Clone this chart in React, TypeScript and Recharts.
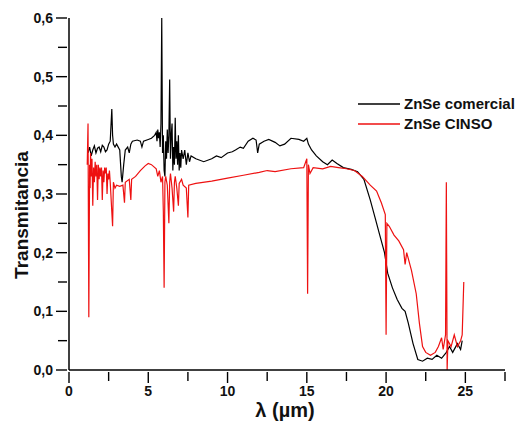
import { LineChart, Line, XAxis, YAxis } from "recharts";

const comercialX = [
  1.2, 1.3, 1.4, 1.5, 1.6, 1.7, 1.8, 1.9, 2.0, 2.1, 2.2, 2.3, 2.4, 2.5, 2.6, 2.7, 2.75, 2.8, 2.9, 3.0,
  3.2, 3.3, 3.35, 3.45, 3.55, 3.7, 3.8, 3.9, 4.0, 4.3, 4.5, 4.6, 4.7, 5.0, 5.2, 5.4,
  5.5, 5.55, 5.6, 5.65, 5.7, 5.75, 5.8, 5.85, 5.9, 5.95, 6.0, 6.05, 6.1, 6.15, 6.2, 6.25,
  6.3, 6.35, 6.4, 6.45, 6.5, 6.55, 6.6, 6.65, 6.7, 6.75, 6.8, 6.85, 6.9, 6.95, 7.0, 7.05,
  7.1, 7.2, 7.3, 7.4, 7.5, 7.6, 7.7, 8.0, 8.5, 9.0, 9.3, 9.6, 10.0, 10.3, 10.5,
  10.8, 11.0, 11.3, 11.6, 11.8, 11.9, 12.0, 12.3, 12.6, 13.0, 13.3, 13.6, 14.0, 14.5,
  14.8, 15.0, 15.1, 15.3, 15.6, 16.0, 16.3, 16.6, 16.9, 17.3, 17.8, 18.2, 18.6, 19.0,
  19.3, 19.6, 19.9, 20.1, 20.4, 20.7, 21.0, 21.2, 21.4, 21.7, 22.0, 22.3, 22.6, 22.9,
  23.2, 23.5, 23.8, 24.0, 24.2, 24.5, 24.7, 24.8
];
const comercialT = [
  0.37, 0.38, 0.365, 0.375, 0.382, 0.37, 0.378, 0.38, 0.372, 0.383, 0.38, 0.372, 0.375, 0.385, 0.39, 0.445, 0.4, 0.385, 0.38, 0.385,
  0.375, 0.33, 0.32, 0.35, 0.375, 0.38, 0.37, 0.385, 0.39, 0.392, 0.39, 0.38, 0.39, 0.393, 0.395, 0.4,
  0.405, 0.39, 0.41, 0.395, 0.405, 0.38, 0.42, 0.6, 0.37, 0.4, 0.34, 0.33, 0.39, 0.36, 0.41, 0.37,
  0.4, 0.495, 0.36, 0.4, 0.42, 0.34, 0.38, 0.35, 0.43, 0.36, 0.39, 0.35, 0.4, 0.34, 0.37, 0.345,
  0.375, 0.36, 0.375, 0.35, 0.37, 0.355, 0.365, 0.36, 0.355, 0.36, 0.365, 0.362, 0.37, 0.372, 0.375,
  0.38, 0.378, 0.39, 0.395, 0.392, 0.37, 0.385, 0.39, 0.393, 0.388, 0.382, 0.385, 0.395, 0.393,
  0.39, 0.395, 0.385, 0.375, 0.365, 0.355, 0.35, 0.358, 0.352, 0.345, 0.342, 0.338, 0.325, 0.29,
  0.26, 0.23, 0.2, 0.165, 0.14, 0.12, 0.105, 0.1, 0.08, 0.045, 0.018, 0.015, 0.02, 0.018,
  0.025, 0.02, 0.03, 0.04, 0.03, 0.045, 0.035, 0.05
];

const cinsoX = [
  1.15, 1.2, 1.25, 1.3, 1.33, 1.36, 1.4, 1.45, 1.5, 1.55, 1.6, 1.65, 1.7, 1.75, 1.8, 1.85,
  1.9, 1.95, 2.0, 2.05, 2.1, 2.15, 2.2, 2.25, 2.3, 2.35, 2.4, 2.45, 2.5, 2.55, 2.6,
  2.7, 2.75, 2.8, 2.9, 3.0, 3.2, 3.4, 3.5, 3.55, 3.8, 3.9, 3.95, 4.2, 4.5,
  4.8, 5.0, 5.2, 5.5, 5.6, 5.7, 5.8, 5.9, 5.95, 6.0, 6.05, 6.1, 6.2, 6.3, 6.35, 6.4, 6.5, 6.6, 6.65, 6.7, 6.8,
  6.9, 6.95, 7.1, 7.2, 7.4, 7.5, 7.55, 8.0, 9.0, 10.0, 11.0, 12.0, 12.5, 13.0, 14.0, 14.8,
  15.0, 15.05, 15.1, 15.2, 15.4, 16.0, 16.5, 17.0, 17.5, 18.0, 18.5, 19.0, 19.4, 19.7, 19.95,
  20.0, 20.05, 20.2, 20.5, 20.8, 21.1, 21.2, 21.3, 21.6, 21.9, 22.1, 22.3, 22.5, 22.8,
  23.1, 23.3, 23.5, 23.6, 23.75, 23.8, 23.85, 23.9, 24.1, 24.3, 24.5, 24.7, 24.8, 24.9
];
const cinsoT = [
  0.35, 0.42, 0.09, 0.35, 0.31, 0.37, 0.33, 0.36, 0.28, 0.345, 0.32, 0.355, 0.33, 0.35, 0.29, 0.35,
  0.325, 0.345, 0.33, 0.345, 0.29, 0.34, 0.32, 0.345, 0.335, 0.345, 0.3, 0.335, 0.325, 0.34, 0.32,
  0.27, 0.245, 0.32, 0.31, 0.315, 0.313, 0.315, 0.285, 0.32, 0.325, 0.29, 0.325, 0.33, 0.34,
  0.348, 0.352, 0.35, 0.343, 0.33, 0.34, 0.32, 0.33, 0.27, 0.14, 0.32, 0.33, 0.315, 0.25, 0.32, 0.335, 0.31, 0.27, 0.32, 0.33, 0.31,
  0.28, 0.318, 0.325, 0.315, 0.31, 0.26, 0.315, 0.318, 0.322, 0.327, 0.332, 0.337, 0.34, 0.338, 0.343, 0.345,
  0.36, 0.13, 0.35, 0.335, 0.345, 0.343, 0.347, 0.345, 0.343, 0.34, 0.33, 0.315, 0.305, 0.285, 0.265,
  0.06, 0.25, 0.245, 0.23, 0.22, 0.205, 0.18, 0.2, 0.17, 0.13, 0.08, 0.04, 0.03, 0.025,
  0.03, 0.04, 0.055, 0.035, 0.06, 0.32, 0.0, 0.05, 0.04, 0.06, 0.04, 0.05, 0.06, 0.15
];

const xTicks = [0, 2.5, 5, 7.5, 10, 12.5, 15, 17.5, 20, 22.5, 25, 27.5];
const yTicks = [0, 0.05, 0.1, 0.15, 0.2, 0.25, 0.3, 0.35, 0.4, 0.45, 0.5, 0.55, 0.6];
const seriesNames = ["ZnSe comercial", "ZnSe CINSO"];
const seriesColors = ["#000", "#ee1111"];

const comercial = comercialX.map((x, i) => ({ x, t: comercialT[i] }));
const cinso = cinsoX.map((x, i) => ({ x, t: cinsoT[i] }));

const font = "'Liberation Sans', Arial, sans-serif";

function XTick({ x, y, payload }: any) {
  const major = payload.value % 5 === 0;
  return (
    <g>
      <line x1={x} x2={x} y1={y - 6} y2={y + (major ? 5 : 3)} stroke="#000" strokeWidth={1.4} />
      {major && (
        <text x={x} y={y + 18} textAnchor="middle" fontFamily={font} fontWeight="bold" fontSize={14} fill="#111">
          {payload.value}
        </text>
      )}
    </g>
  );
}

function YTick({ x, y, payload }: any) {
  const major = Math.round(payload.value * 100) % 10 === 0;
  return (
    <g>
      <line x1={x - (major ? 5 : 3)} x2={x + 6} y1={y} y2={y} stroke="#000" strokeWidth={1.4} />
      {major && (
        <text x={x - 8} y={y + 5} textAnchor="end" fontFamily={font} fontWeight="bold" fontSize={14} fill="#111">
          {payload.value.toFixed(1).replace(".", ",")}
        </text>
      )}
    </g>
  );
}

function LegendBox() {
  return (
    <svg width={170} height={44} style={{ position: "absolute", left: 356, top: 94 }}>
      {seriesNames.map((label, i) => (
        <g key={label}>
          <line x1={2} x2={44} y1={10 + i * 20} y2={10 + i * 20} stroke={seriesColors[i]} strokeWidth={1.3} />
          <text x={48} y={15 + i * 20} fontFamily={font} fontWeight="bold" fontSize={15} fill="#111">
            {label}
          </text>
        </g>
      ))}
    </svg>
  );
}

export default function App() {
  return (
    <div style={{ position: "absolute", left: 0, top: 0, width: 525, height: 429, background: "#fff" }}>
      <LineChart width={525} height={429} margin={{ top: 18, right: 20, bottom: 29, left: 19 }}>
        <XAxis
          dataKey="x"
          type="number"
          domain={[0, 27.5]}
          ticks={xTicks}
          interval={0}
          tickLine={false}
          tick={<XTick />}
          height={30}
          stroke="#000"
          strokeWidth={1.5}
          allowDuplicatedCategory={false}
        />
        <YAxis
          dataKey="t"
          type="number"
          domain={[0, 0.6]}
          ticks={yTicks}
          interval={0}
          tickLine={false}
          tick={<YTick />}
          width={50}
          stroke="#000"
          strokeWidth={1.5}
        />
        <Line
          data={comercial}
          dataKey="t"
          name={seriesNames[0]}
          type="linear"
          stroke={seriesColors[0]}
          strokeWidth={1.2}
          dot={false}
          isAnimationActive={false}
        />
        <Line
          data={cinso}
          dataKey="t"
          name={seriesNames[1]}
          type="linear"
          stroke={seriesColors[1]}
          strokeWidth={1.2}
          dot={false}
          isAnimationActive={false}
        />
      </LineChart>
      <LegendBox />
      <div
        style={{
          position: "absolute",
          left: 22,
          top: 215,
          transform: "translate(-50%, -50%) rotate(-90deg)",
          fontFamily: font,
          fontWeight: "bold",
          fontSize: 19,
          whiteSpace: "nowrap",
          color: "#111"
        }}
      >
        Transmitancia
      </div>
      <div
        style={{
          position: "absolute",
          left: 285,
          top: 410,
          transform: "translate(-50%, -50%)",
          fontFamily: font,
          fontWeight: "bold",
          fontSize: 20,
          whiteSpace: "nowrap",
          color: "#111"
        }}
      >
        λ (µm)
      </div>
    </div>
  );
}
